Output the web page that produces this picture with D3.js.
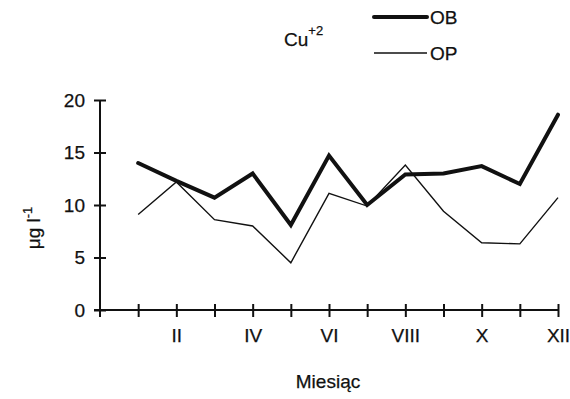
<!DOCTYPE html>
<html>
<head>
<meta charset="utf-8">
<script src="https://cdn.jsdelivr.net/npm/d3@7"></script>
<style>
  html, body { margin: 0; padding: 0; background: #fff; }
  svg { display: block; font-family: "Liberation Sans", Arial, sans-serif; }
  svg text { stroke: #111; stroke-width: 0.25px; }
</style>
</head>
<body>
<svg id="chart" width="570" height="399"></svg>
<script>
// ---- data ----
const months = [1, 2, 3, 4, 5, 6, 7, 8, 9, 10, 11, 12];
const monthLabels = ["I", "II", "III", "IV", "V", "VI", "VII", "VIII", "IX", "X", "XI", "XII"];
const obValues = [14.0, 12.3, 10.7, 13.0, 8.1, 14.7, 10.0, 12.9, 13.0, 13.7, 12.0, 18.6];
const opValues = [9.1, 12.2, 8.6, 8.0, 4.5, 11.1, 9.9, 13.8, 9.4, 6.4, 6.3, 10.7];
const yTicks = [0, 5, 10, 15, 20];
const seriesNames = ["OB", "OP"];

// ---- layout ----
const svg = d3.select("#chart");
const x = d3.scaleLinear().domain([0, 12]).range([100, 558]);
const y = d3.scaleLinear().domain([0, 20]).range([310, 100]);
const ink = "#111";
const fs = 19;

// Y axis
const yAxis = svg.append("g")
  .attr("transform", `translate(${x(0)},0)`)
  .call(d3.axisLeft(y).tickValues(yTicks).tickSize(6).tickPadding(10));
yAxis.select(".domain").attr("stroke", ink).attr("stroke-width", 2).attr("d", `M0,${y(0)}V${y(20)}`);
yAxis.selectAll(".tick line").attr("x1", -6).attr("x2", 6).attr("stroke", ink).attr("stroke-width", 2);
yAxis.selectAll(".tick text").attr("x", -15).attr("font-size", fs).attr("fill", ink)
  .attr("font-family", "Liberation Sans, Arial, sans-serif");

// X axis
const xAxis = svg.append("g")
  .attr("transform", `translate(0,${y(0)})`)
  .call(d3.axisBottom(x).tickValues(months).tickSize(6).tickPadding(20)
    .tickFormat(d => (d % 2 === 0 ? monthLabels[d - 1] : "")));
xAxis.select(".domain").attr("stroke", ink).attr("stroke-width", 2).attr("d", `M${x(0) - 6},0H${x(12)}`);
xAxis.selectAll(".tick line").attr("y1", -6).attr("y2", 7).attr("stroke", ink).attr("stroke-width", 2);
xAxis.selectAll(".tick text").attr("y", 19).attr("font-size", fs).attr("fill", ink)
  .attr("font-family", "Liberation Sans, Arial, sans-serif");
svg.append("line").attr("x1", x(0)).attr("x2", x(0)).attr("y1", y(0)).attr("y2", y(0) + 7)
  .attr("stroke", ink).attr("stroke-width", 2);

// axis titles
svg.append("text").attr("x", 328).attr("y", 388).attr("text-anchor", "middle")
  .attr("font-size", fs).attr("fill", ink).text("Miesiąc");

const yt = svg.append("text")
  .attr("transform", `translate(40,228) rotate(-90)`)
  .attr("text-anchor", "middle").attr("font-size", fs).attr("fill", ink);
yt.append("tspan").text("μg l");
yt.append("tspan").attr("dy", -8).attr("font-size", 13).text("-1");

// lines
const line = d3.line().x((d, i) => x(months[i])).y(d => y(d));
svg.append("path").datum(opValues).attr("d", line)
  .attr("fill", "none").attr("stroke", ink).attr("stroke-width", 1.4).attr("stroke-linejoin", "miter");
svg.append("path").datum(obValues).attr("d", line)
  .attr("fill", "none").attr("stroke", ink).attr("stroke-width", 4).attr("stroke-linejoin", "miter")
  .attr("stroke-linecap", "round");

// legend
const cu = svg.append("text").attr("x", 284).attr("y", 46).attr("font-size", fs).attr("fill", ink);
cu.append("tspan").text("Cu");
cu.append("tspan").attr("dy", -11).attr("font-size", 13).text("+2");

const legendY = [17, 53];
const legendW = [4, 1.4];
seriesNames.forEach((name, i) => {
  svg.append("line").attr("x1", 374).attr("x2", 427).attr("y1", legendY[i]).attr("y2", legendY[i])
    .attr("stroke", ink).attr("stroke-width", legendW[i]).attr("stroke-linecap", i === 0 ? "round" : "butt");
  svg.append("text").attr("x", 430).attr("y", legendY[i] + 7).attr("font-size", fs).attr("fill", ink).text(name);
});
</script>
</body>
</html>
